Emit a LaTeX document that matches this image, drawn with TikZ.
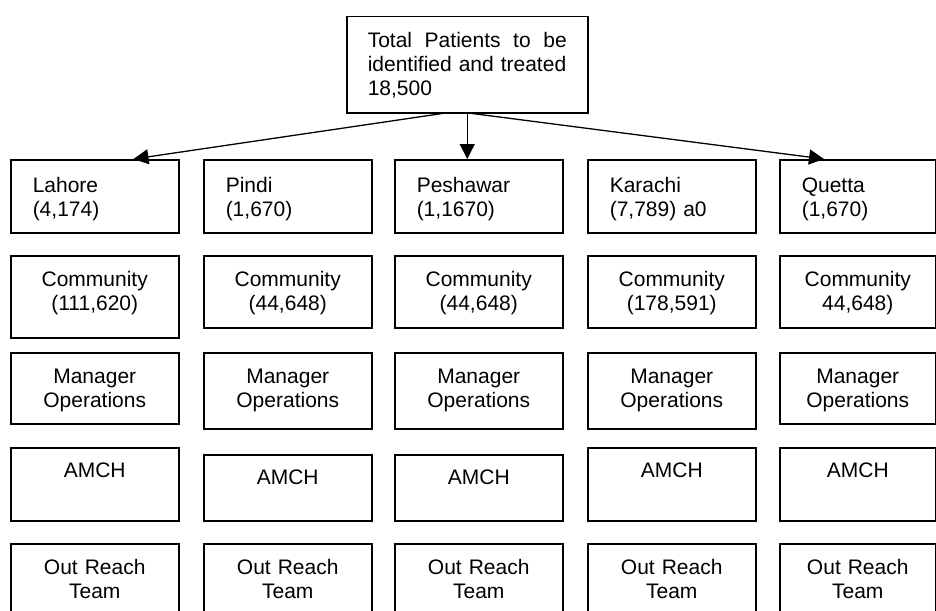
\documentclass[tikz,border=0pt]{standalone}
\usepackage{fontspec}
\setmainfont{Liberation Sans}
\usetikzlibrary{arrows.meta,calc}
\begin{document}
\begin{tikzpicture}[x=1pt,y=-1pt,
  cell/.style={draw, line width=1.5pt, anchor=north west, inner ysep=0pt,
    font=\fontsize{21}{24}\selectfont},
  % left-aligned city cell: text inset 22pt from the left edge
  citycell/.style={cell, inner xsep=22pt, align=left},
  % centred cell: text width equals box width
  midcell/.style={cell, inner xsep=0pt, align=center},
  link/.style={line width=1.3pt, -{Triangle[length=15pt,width=15pt]}}]
\useasboundingbox (0,0) rectangle (936,610);
\clip (0,0) rectangle (936,610);

% head box, first line spread to the full text width
\node[cell, inner xsep=21pt, align=left, text width=199pt,
      text height=31pt, text depth=65pt] (top) at (346,16)
  {\makebox[199pt][l]{Total\hfill Patients\hfill to\hfill be}\\identified and treated\\18,500};

% city row
\foreach \i/\x/\tw/\txt in {1/10/124/{Lahore\\(4,174)},
                            2/203/124/{Pindi\\(1,670)},
                            3/394/124/{Peshawar\\(1,1670)},
                            4/587/124/{Karachi\\(7,789) a0},
                            5/779/112/{Quetta\\(1,670)}}
  \node[citycell, text width=\tw pt, text height=33pt, text depth=40pt]
    (city\i) at (\x,159) {\txt};

% community row
\foreach \i/\x/\w/\h/\txt in {1/10/168/82/{Community\\(111,620)},
                              2/203/168/72/{Community\\(44,648)},
                              3/394/168/72/{Community\\(44,648)},
                              4/587/168/72/{Community\\(178,591)},
                              5/779/156/72/{Community\\44,648)}}
  \node[midcell, text width=\w pt, text height=31pt, text depth=\h pt-31pt]
    (com\i) at (\x,255) {\txt};

% manager row
\foreach \i/\x/\w/\h in {1/10/168/71, 2/203/168/76, 3/394/168/76,
                         4/587/168/76, 5/779/156/71}
  \node[midcell, text width=\w pt, text height=31pt, text depth=\h pt-31pt]
    (mgr\i) at (\x,352) {Manager\\Operations};

% AMCH row
\foreach \i/\x/\y/\w/\h in {1/10/447/168/73, 2/203/454/168/66, 3/394/454/168/66,
                            4/587/447/168/73, 5/779/447/156/73}
  \node[midcell, text width=\w pt, text height=30pt, text depth=\h pt-30pt]
    (amch\i) at (\x,\y) {AMCH};

% outreach row
\foreach \i/\x/\w in {1/10/168, 2/203/168, 3/394/168, 4/587/168, 5/779/156}
  \node[midcell, text width=\w pt, text height=31pt, text depth=49pt]
    (team\i) at (\x,543) {Out Reach\\Team};

% links from the head box
\coordinate (sL) at ($(top.south)+(-25,0)$);
\coordinate (sR) at ($(top.south)+(5,0)$);
\coordinate (tL) at ($(city1.north east)+(-46,0)$);
\coordinate (tR) at ($(city5.north west)+(45,0)$);
\draw[link] (sL) -- (tL);
\draw[link] (top.south) -- (top.south |- city3.north);
\draw[link] (sR) -- (tR);
\end{tikzpicture}
\end{document}
